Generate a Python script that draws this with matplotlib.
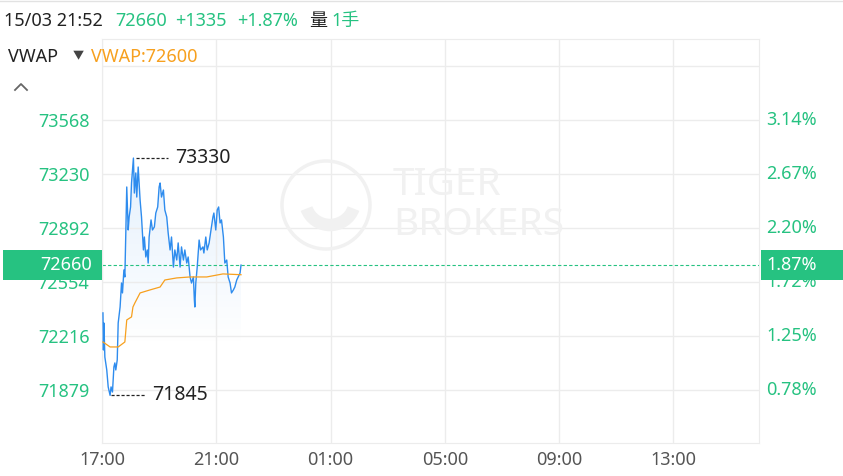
import numpy as np
import matplotlib.pyplot as plt
import matplotlib.transforms as mtransforms
from matplotlib.patches import Polygon, Rectangle, Circle, Arc
from matplotlib.lines import Line2D
from matplotlib.colors import to_rgb

plt.rcParams['font.family'] = ['Noto Sans', 'Noto Sans CJK SC', 'DejaVu Sans']

# intraday ticks, minutes after 17:00 on 15/03
minutes = [2, 3, 4, 6, 10, 13, 17, 19, 22, 25, 27, 29, 32, 34, 38, 41, 43, 46, 48, 50,
           52, 55, 57, 60, 62, 66, 68, 71, 73, 76, 80, 83, 87, 89, 92, 95, 97, 99, 103, 106,
           110, 113, 117, 120, 122, 125, 129, 132, 136, 139, 143, 146, 150, 153, 157, 160, 164, 167, 171, 174,
           178, 181, 185, 188, 192, 194, 195, 197, 200, 204, 207, 212, 214, 218, 221, 225, 228, 233, 235, 239,
           242, 245, 248, 251, 255, 258, 262, 265, 269, 272, 276, 279, 283, 286, 290, 292]
price = [72361, 72129, 72298, 72085, 72004, 71898, 71845, 71898, 71866, 72023, 72048, 72004, 72067, 72298, 72398, 72548, 72486, 72630, 72586, 72861,
         73149, 72880, 72961, 73024, 73174, 73330, 73111, 73237, 73086, 73274, 73068, 72961, 72755, 72836, 72711, 72755, 72673, 72836, 72943, 72880,
         72899, 72986, 73024, 73149, 73174, 73086, 73130, 73005, 72961, 72861, 72755, 72836, 72648, 72755, 72692, 72799, 72648, 72774, 72692, 72755,
         72673, 72711, 72586, 72548, 72586, 72442, 72398, 72548, 72648, 72817, 72755, 72774, 72736, 72836, 72755, 72799, 72861, 72961, 72986, 72880,
         73005, 73024, 72924, 72943, 72836, 72673, 72692, 72586, 72548, 72486, 72505, 72523, 72567, 72586, 72611, 72660]

vwap_minutes = [2, 17, 34, 48, 52, 62, 65, 69, 80, 101, 122, 132, 157, 185, 220, 254, 292]
vwap = [72179, 72148, 72148, 72179, 72317, 72336, 72398, 72423, 72486, 72505, 72523, 72567, 72580, 72586, 72586, 72605, 72600]

prev_close = 71325
last_price = 72660
last_vwap = 72600
y_ticks = [71879, 72216, 72554, 72892, 73230, 73568]
x_ticks = [0, 240, 480, 720, 960, 1200]
x_labels = ['17:00', '21:00', '01:00', '05:00', '09:00', '13:00']

GREEN = '#26C281'
BLUE = '#2E8CEE'
ORANGE = '#F7A01E'
GRID = '#ECECEC'

W, H = 843, 476
fig = plt.figure(figsize=(W / 100, H / 100), dpi=100)
ax = fig.add_axes([102 / W, (H - 443) / H, (759 - 102) / W, (443 - 39) / H])
ylo, yhi = 71547, 74075

# grid
ax.set_xticks(x_ticks)
ax.set_xticklabels(x_labels)
ax.set_yticks(y_ticks + [73906])
ax.set_yticklabels([str(v) for v in y_ticks] + [''])
ax.grid(True, color=GRID, lw=1)
for s in ax.spines.values():
    s.set_color(GRID)
ax.tick_params(length=0)
ax.tick_params(axis='y', colors=GREEN, labelsize=13, pad=9)
ax.tick_params(axis='x', colors='#555555', labelsize=13, pad=6)

# right percentage labels
blend = mtransforms.blended_transform_factory(ax.transAxes, ax.transData)
for v in y_ticks:
    ax.text(1.011, v, '%.2f%%' % ((v - prev_close) / prev_close * 100), transform=blend,
            ha='left', va='center', color=GREEN, fontsize=13)

# watermark
wm = '#F1F1F1'
inch = fig.dpi_scale_trans
fig.add_artist(Circle((3.26, (H - 205) / 100), 0.44, transform=inch, fill=False, ec=wm, lw=2.5, zorder=0.5))
fig.add_artist(Arc((3.30, (H - 200) / 100), 0.5, 0.5, theta1=200, theta2=340, transform=inch, ec=wm, lw=9, zorder=0.5))
fig.text(393 / W, 1 - 185 / H, 'TIGER', fontsize=28, fontweight='bold', color=wm, va='center', zorder=0.5)
fig.text(393 / W, 1 - 225 / H, 'BROKERS', fontsize=28, fontweight='bold', color=wm, va='center', zorder=0.5)

# gradient area under price
poly = Polygon(np.column_stack([minutes + [minutes[-1], minutes[0]], price + [ylo, ylo]]),
               closed=True, fc='none', ec='none')
ax.add_patch(poly)
ys = np.linspace(ylo, max(price), 256)
alpha = np.clip((ys - 72150) / (max(price) - 72150), 0, 1) * 0.13
rgba = np.zeros((256, 1, 4))
rgba[..., :3] = to_rgb(BLUE)
rgba[:, 0, 3] = alpha
im = ax.imshow(rgba, extent=[minutes[0], minutes[-1], ylo, max(price)], origin='lower',
               aspect='auto', zorder=1, interpolation='bilinear')
im.set_clip_path(poly)
ax.set_xlim(0, 1380)
ax.set_ylim(ylo, yhi)

ax.plot(minutes, price, color=BLUE, lw=1.0, zorder=3)
ax.plot(vwap_minutes, vwap, color=ORANGE, lw=0.9, zorder=3)
ax.axhline(last_price, color=GREEN, lw=0.8, ls=(0, (3, 2)), zorder=2)

# high / low markers
i_hi = int(np.argmax(price))
i_lo = int(np.argmin(price))
ax.plot([minutes[i_hi] + 5, minutes[i_hi] + 73], [price[i_hi]] * 2, color='#222222', lw=0.9, ls=(0, (2.5, 1.5)), zorder=3)
ax.text(minutes[i_hi] + 87, price[i_hi], str(price[i_hi]), fontsize=14, color='#222222', va='center')
ax.plot([minutes[i_lo] + 2, minutes[i_lo] + 75], [price[i_lo]] * 2, color='#222222', lw=0.9, ls=(0, (2.5, 1.5)), zorder=3)
ax.text(minutes[i_lo] + 88, price[i_lo], str(price[i_lo]), fontsize=14, color='#222222', va='center')

# last price boxes
box_h = 30 * (yhi - ylo) / (443 - 39)
fblend = mtransforms.blended_transform_factory(fig.transFigure, ax.transData)
fig.add_artist(Rectangle((3 / W, last_price - box_h / 2), 99 / W, box_h, transform=fblend, fc=GREEN, ec='none', zorder=5))
fig.add_artist(Rectangle((761 / W, last_price - box_h / 2), 82 / W, box_h, transform=fblend, fc=GREEN, ec='none', zorder=5))
fig.text(92 / W, last_price, str(last_price), transform=fblend, ha='right', va='center',
         color='white', fontsize=13, zorder=6)
fig.text(766 / W, last_price, '%.2f%%' % ((last_price - prev_close) / prev_close * 100), transform=fblend,
         ha='left', va='center', color='white', fontsize=13, zorder=6)

# header
def hdr(x, y, s, c, size=13):
    fig.text(x / W, 1 - y / H, s, color=c, va='baseline', fontsize=size)

hdr(4, 26, '15/03 21:52', '#222222')
hdr(115, 26, str(last_price), GREEN)
hdr(175, 26, '+%d' % (last_price - prev_close), GREEN)
hdr(237, 26, '+%.2f%%' % ((last_price - prev_close) / prev_close * 100), GREEN)
hdr(309, 26, '量', '#222222')
hdr(331, 26, '1手', GREEN)
hdr(8, 62, 'VWAP', '#222222')
hdr(73, 59, '▼', '#444444', size=8)
hdr(91, 62, 'VWAP:%d' % last_vwap, ORANGE)

fig.add_artist(Line2D([0.15, 0.21, 0.27], [(H - 90) / 100, (H - 84) / 100, (H - 90) / 100],
                      transform=inch, color='#666666', lw=1.3))
fig.add_artist(Line2D([0, 1], [1 - 1 / H, 1 - 1 / H], transform=fig.transFigure, color='#E2E2E2', lw=1))

fig.savefig('out.png', dpi=100)
